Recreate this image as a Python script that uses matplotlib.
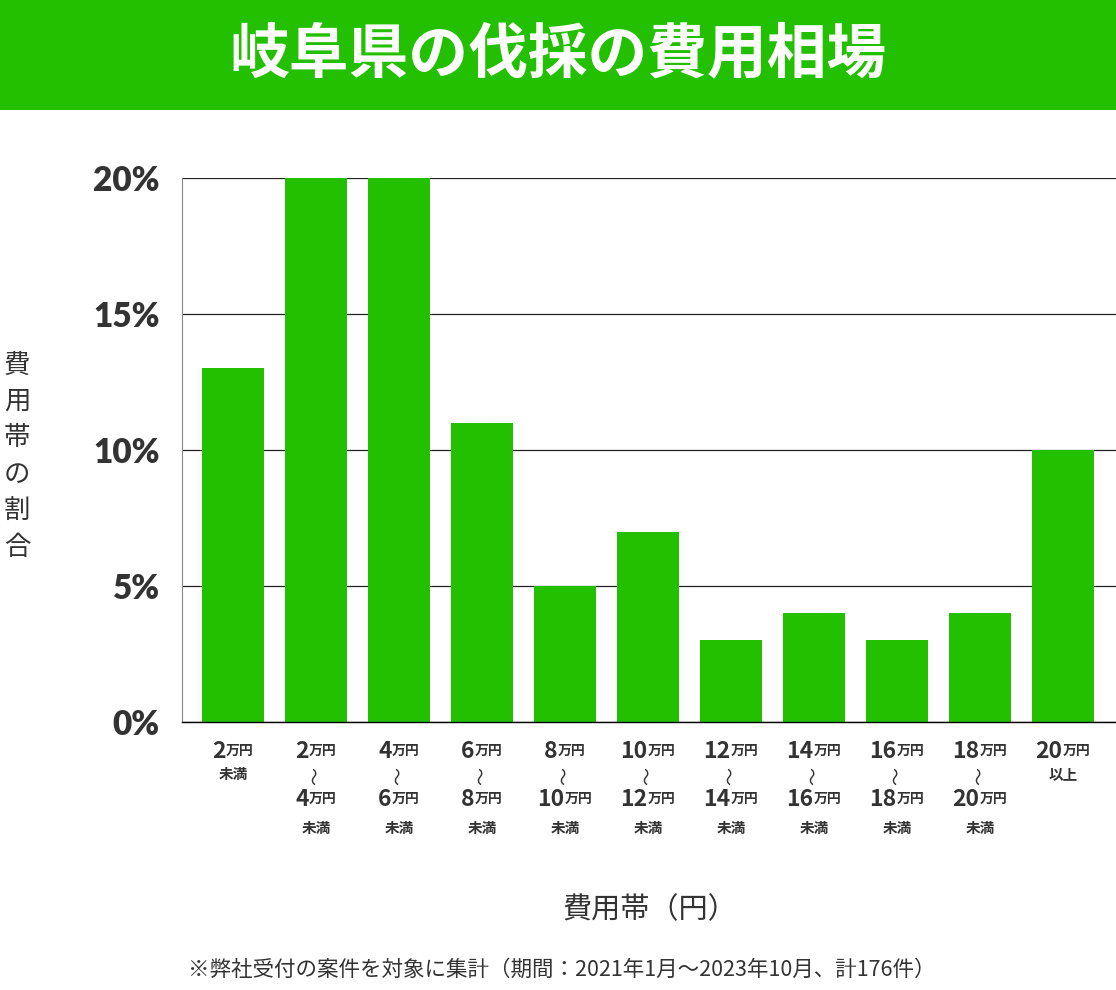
import numpy as np
import matplotlib
matplotlib.use("Agg")
import matplotlib.pyplot as plt

plt.rcParams['font.family'] = ['Noto Sans CJK JP', 'DejaVu Sans']

TITLE = "岐阜県の伐採の費用相場"
lows = ["2", "2", "4", "6", "8", "10", "12", "14", "16", "18", "20"]
highs = [None, "4", "6", "8", "10", "12", "14", "16", "18", "20", None]
shares = [13, 20, 20, 11, 5, 7, 3, 4, 3, 4, 10]
yticks = [0, 5, 10, 15, 20]
YLABEL = "費用帯の割合"
XLABEL = "費用帯（円）"
NOTE = "※弊社受付の案件を対象に集計（期間：2021年1月～2023年10月、計176件）"

GREEN = "#23c000"
TXT = "#333333"

W, H, DPI = 1116, 990, 100
fig = plt.figure(figsize=(W / DPI, H / DPI), dpi=DPI)

# title band
band = fig.add_axes([0, 1 - 110 / H, 1, 110 / H])
band.set_facecolor(GREEN)
band.set_xticks([])
band.set_yticks([])
for s in band.spines.values():
    s.set_visible(False)
band.text(0.5, 0.5, TITLE, color="white", fontsize=43, fontweight="bold",
          ha="center", va="center", transform=band.transAxes)

ax = fig.add_axes([182 / W, 1 - 722 / H, (W - 182) / W, (722 - 178) / H])
x = np.arange(len(shares))
ax.bar(x, shares, width=0.747, color=GREEN, zorder=2)
ax.set_xlim(-0.614, 10.64)
ax.set_ylim(0, 20)
ax.set_yticks(yticks)
ax.set_yticklabels([f"{v}%" for v in yticks], fontsize=24, fontweight="heavy",
                   color=TXT, family=["Lato", "DejaVu Sans"])
ax.tick_params(axis="y", length=0, pad=16)
ax.tick_params(axis="x", length=0, labelbottom=False)
ax.grid(axis="y", color="#222222", linewidth=0.9, zorder=1)
for s in ["top", "right"]:
    ax.spines[s].set_visible(False)
ax.spines["left"].set_color("#888888")
ax.spines["bottom"].set_color("#000000")
ax.spines["bottom"].set_linewidth(1.0)

# composed category labels
pairs = []
def put(xi, dy, txt, size, ha="left"):
    return ax.annotate(txt, xy=(xi, 0), xycoords=("data", "axes fraction"),
                       xytext=(0, dy), textcoords="offset pixels",
                       ha=ha, va="center", fontsize=size,
                       fontweight="bold", color=TXT,
                       annotation_clip=False)

for i, (lo, hi) in enumerate(zip(lows, highs)):
    n1 = put(i, -30, lo, 16.5)
    u1 = put(i, -29, "万円", 10)
    pairs.append((n1, u1))
    if hi is None:
        put(i, -52, "未満" if i == 0 else "以上", 10.5, ha="center")
    else:
        ax.annotate("～", xy=(i, 0), xycoords=("data", "axes fraction"),
                    xytext=(0, -54), textcoords="offset pixels",
                    ha="center", va="center", fontsize=13, rotation=90,
                    color=TXT, annotation_clip=False)
        n2 = put(i, -78, hi, 16.5)
        u2 = put(i, -77, "万円", 10)
        pairs.append((n2, u2))
        put(i, -106, "未満", 10.5, ha="center")

fig.canvas.draw()
r = fig.canvas.get_renderer()
for n, u in pairs:
    wn = n.get_window_extent(r).width
    wu = u.get_window_extent(r).width
    tot = wn + wu
    n.xyann = (-tot / 2, n.xyann[1])
    u.xyann = (-tot / 2 + wn, u.xyann[1])

fig.text(17 / W, 1 - 456 / H, "\n".join(YLABEL), fontsize=19, color=TXT,
         ha="center", va="center", linespacing=1.45)
fig.text(650 / W, 1 - 910 / H, XLABEL, fontsize=21, color=TXT,
         ha="center", va="center")
fig.text(562 / W, 1 - 970 / H, NOTE, fontsize=15.5, color=TXT,
         ha="center", va="center")

fig.savefig("out.png", dpi=DPI)
